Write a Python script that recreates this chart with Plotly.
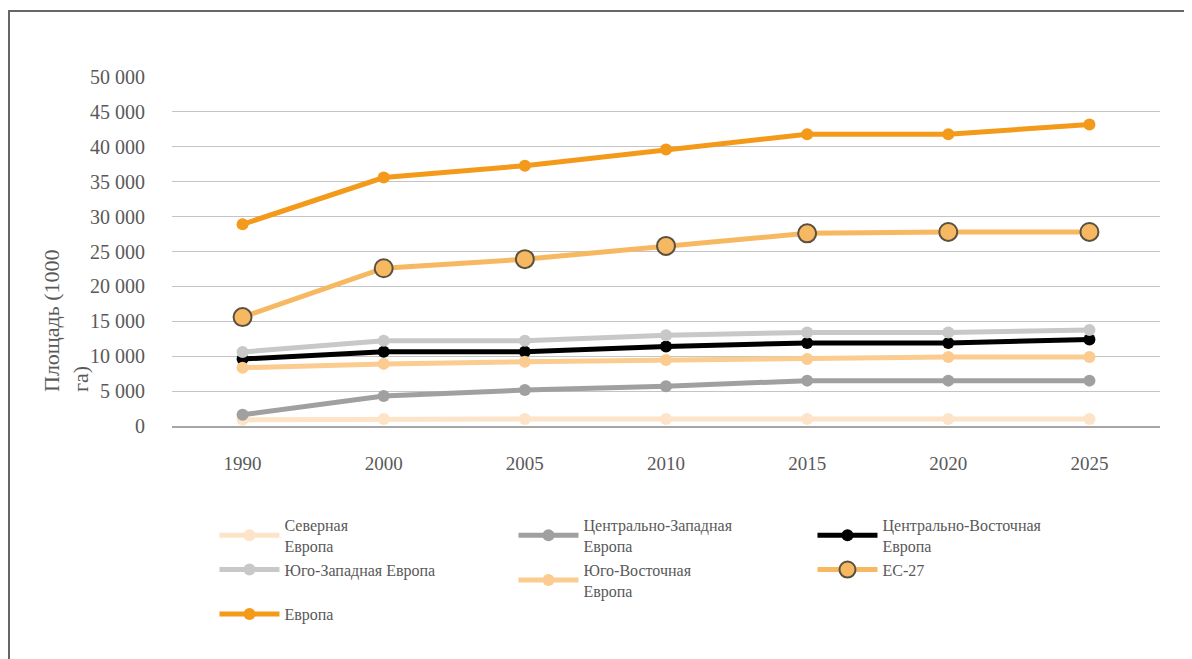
import plotly.graph_objects as go

years = ["1990", "2000", "2005", "2010", "2015", "2020", "2025"]

north = [900, 1000, 1000, 1000, 1000, 1000, 1000]
central_west = [1600, 4300, 5150, 5700, 6500, 6500, 6500]
central_east = [9600, 10650, 10650, 11400, 11900, 11900, 12400]
south_west = [10600, 12200, 12200, 13000, 13400, 13400, 13750]
south_east = [8350, 8900, 9200, 9450, 9600, 9900, 9900]
eu27 = [15600, 22600, 23900, 25800, 27600, 27800, 27800]
europe = [28900, 35600, 37300, 39600, 41800, 41800, 43200]

names = ["Северная<br>Европа", "Центрально-Западная<br>Европа", "Центрально-Восточная<br>Европа",
         "Юго-Западная Европа", "Юго-Восточная<br>Европа", "ЕС-27", "Европа"]

y_ticks = [0, 5000, 10000, 15000, 20000, 25000, 30000, 35000, 40000, 45000, 50000]
y_tick_text = ["0", "5 000", "10 000", "15 000", "20 000", "25 000", "30 000",
               "35 000", "40 000", "45 000", "50 000"]

series = [
    (north, "#FDE4C8", 12, None),
    (central_west, "#A0A0A0", 12, None),
    (central_east, "#000000", 12, None),
    (south_west, "#C8C8C8", 12, None),
    (south_east, "#FCCB8F", 12, None),
    (eu27, "#F7B862", 18, "#5A5040"),
    (europe, "#F39A1B", 12, None),
]

fig = go.Figure()
for (vals, color, msize, mline), name in zip(series, names):
    fig.add_trace(go.Scatter(
        x=years, y=vals, name=name, mode="lines+markers",
        line=dict(color=color, width=5),
        marker=dict(color=color, size=msize,
                    line=dict(color=mline if mline else color, width=2 if mline else 0)),
    ))

font_family = "Liberation Serif"
grey = "#595959"

# page body has an 8px margin; figure is placed at (8, 8)
W, H = 1184, 651
L, T = 164, 69
PW, PH = 988, 349
R = W - L - PW
B = H - T - PH

fig.update_layout(
    width=W, height=H,
    margin=dict(l=L, r=R, t=T, b=B, autoexpand=False),
    paper_bgcolor="white", plot_bgcolor="white",
    font=dict(family=font_family, color=grey, size=19),
    showlegend=True,
    legend=dict(
        orientation="h", x=0.043, xanchor="left", y=-0.235, yanchor="top",
        entrywidth=224, entrywidthmode="pixels", itemwidth=60,
        font=dict(family=font_family, size=16, color=grey),
        bgcolor="rgba(0,0,0,0)",
    ),
    xaxis=dict(
        type="category", range=[-0.5, 6.5], showgrid=False,
        showline=True, linecolor="#A6A6A6", linewidth=2,
        ticks="", ticklabelstandoff=19,
        tickfont=dict(family=font_family, size=19, color=grey),
        zeroline=False,
    ),
    yaxis=dict(
        range=[0, 50000], tickvals=y_ticks, ticktext=y_tick_text,
        showgrid=True, gridcolor="#C4C4C4", gridwidth=1,
        zeroline=False, showline=False, ticks="", ticklabelstandoff=26,
        tickfont=dict(family=font_family, size=20, color=grey),
    ),
    annotations=[dict(
        text="Площадь (1000<br>га)", textangle=-90, align="left",
        xref="paper", yref="paper", x=(66 - 172) / PW, y=(426 - 321) / PH,
        xanchor="center", yanchor="middle", showarrow=False,
        font=dict(family=font_family, size=22, color=grey),
    )],
    shapes=[dict(
        type="rect", xref="paper", yref="paper",
        x0=(9 - 172) / PW, x1=(1230 - 172) / PW,
        y0=(426 - 700) / PH, y1=(426 - 11) / PH,
        line=dict(color="#666666", width=2), fillcolor="rgba(0,0,0,0)", layer="below",
    )],
)

fig.write_html("out.html")
